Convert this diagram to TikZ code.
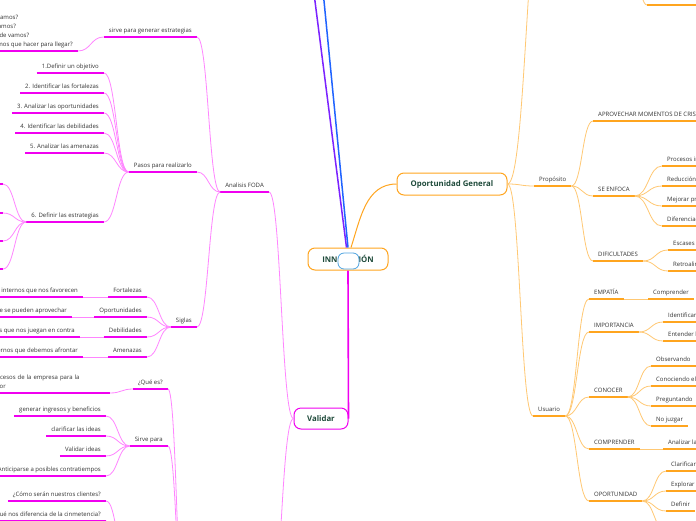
\documentclass[tikz,border=0pt]{standalone}
\usepackage{fontspec}
\setmainfont{Open Sans}
\usetikzlibrary{calc}

% Colours of the map
\definecolor{magU}{HTML}{F000F0}
\definecolor{magL}{HTML}{FF85FF}
\definecolor{orU}{HTML}{FFA51F}
\definecolor{orL}{HTML}{FFC873}
\definecolor{upviolet}{HTML}{7B22FF}
\definecolor{upblue}{HTML}{1F63FF}
\definecolor{dotblue}{HTML}{4DA3E0}
\definecolor{topictext}{HTML}{1E4A3A}
\definecolor{leaftext}{HTML}{333333}

\newcommand{\leaffont}{\fontsize{6}{8.7}\selectfont}
\newcommand{\topicfont}{\fontsize{7.8}{9}\selectfont\bfseries}

\tikzset{
  % underlined text of a branch
  leaf/.style={inner xsep=5pt, inner ysep=3.3pt, text depth=1.5pt,
    font=\leaffont, text=leaftext,
    append after command={\pgfextra{\let\thisleaf\tikzlastnode
      \draw[line width=1.8pt, #1] (\thisleaf.south west) -- (\thisleaf.south east);}}},
  mleaf/.style={leaf=magU, anchor=south east},
  oleaf/.style={leaf=orU, anchor=south west},
  % rounded box of a main topic
  topic/.style={draw=#1, line width=1pt, rounded corners=7pt, fill=white,
    font=\topicfont, text=topictext, minimum height=22pt},
  % S-shaped connector
  mmcurve/.style={to path={let \p1=(\tikztostart), \p2=(\tikztotarget) in
    .. controls ({(\x1+\x2)/2},\y1) and ({(\x1+\x2)/2},\y2) .. (\p2)}},
  mlink/.style={draw=magL, line width=0.8pt, mmcurve},
  olink/.style={draw=orL, line width=0.8pt, mmcurve},
  mstub/.style={draw=magU, line width=1.8pt},
  ostub/.style={draw=orU, line width=1.8pt}
}

\begin{document}
\begin{tikzpicture}[x=1pt, y=-1pt]
  \useasboundingbox (0,0) rectangle (696,520);
  \clip (0,0) rectangle (696,520);
  \fill[white] (0,0) rectangle (696,520);

  % Central topic
  \node[topic=orU, minimum width=80pt] (inn) at (348,259) {INNOVACIÓN};
  \node[draw=dotblue, fill=white, line width=0.8pt, rounded corners=6pt,
        minimum width=21pt, minimum height=16pt] (innmark) at (348.5,261) {};
  \node[topic=magU, minimum width=54pt, minimum height=21pt] (val) at (321,418.5) {Validar};
  \node[topic=orU, minimum width=110pt] (opp) at (452,184) {Oportunidad General};

  % Main branches
  \coordinate (upP) at (311,-30);
  \coordinate (upB) at (321,-30);
  \draw[line width=1.5pt, upviolet] ([xshift=-1.5pt]inn.north) -- (upP);
  \draw[line width=1.5pt, upblue] (inn.north) -- (upB);
  \draw[line width=1pt, orU] ([xshift=3pt]inn.north) to[out=72,in=180] (opp.west);
  \draw[line width=1.6pt, magU] (inn.south) -- (val.east);

  % Analisis FODA
  \node[mleaf] (foda) at (269,192) {Analisis FODA};
  \draw[mlink] (foda.south east) to (val.west);
  \node[mleaf] (sirve) at (197,37) {sirve para generar estrategias};
  \node[mleaf, align=left, text depth={}] (preg) at (78,51)
    {¿Dónde estamos?\\¿Qué buscamos?\\¿Hacia dónde vamos?\\¿Qué tenemos que hacer para llegar?};
  \draw[mlink] (sirve.south east) to (foda.south west);
  \draw[mlink] (preg.south east) to (sirve.south west);

  % Pasos para realizarlo
  \node[mleaf] (pasos) at (197,172) {Pasos para realizarlo};
  \draw[mlink] (pasos.south east) to (foda.south west);
  \foreach \i/\v/\t in {1/73/1.Definir un objetivo, 2/93/2. Identificar las fortalezas,
      3/113/3. Analizar las oportunidades, 4/133/4. Identificar las debilidades,
      5/153/5. Analizar las amenazas, 6/222/6. Definir las estrategias}{
    \node[mleaf] (pa\i) at (104,\v) {\t};
    \draw[mlink] (pa\i.south east) to (pasos.south west);
  }
  \foreach \i/\v in {1/184,2/213,3/241,4/269}{
    \coordinate (es\i) at (3,\v);
    \draw[mstub] (es\i) -- ++(-30,0);
    \draw[mlink] (es\i) to (pa6.south west);
  }

  % Siglas
  \node[mleaf] (siglas) at (197,327) {Siglas};
  \draw[mlink] (siglas.south east) to (foda.south west);
  \foreach \k/\v/\t/\d/\u in {fort/297/Fortalezas/Factores internos que nos favorecen/83,
      opor/317/Oportunidades/Factores externos que se pueden aprovechar/72,
      debi/337/Debilidades/Factores internos que nos juegan en contra/80,
      amen/357/Amenazas/Factores externos que debemos afrontar/83}{
    \node[mleaf] (\k) at (147,\v) {\t};
    \node[mleaf] (d\k) at (\u,\v) {\d};
    \draw[mlink] (\k.south east) to (siglas.south west);
    \draw[mlink] (d\k.south east) to (\k.south west);
  }

  % Lower branch of Validar (its topic lies below the picture)
  \coordinate (lowR) at (268,640);
  \coordinate (lowL) at (186,640);
  \draw[mlink] (lowR) to (val.west);
  \node[mleaf] (quees) at (168,389) {¿Qué es?};
  \node[mleaf, text width=155pt, align=left, text depth={}] (queesd) at (110,393)
    {Mejora de los procesos de la empresa para la\\generación de valor};
  \draw[mlink] (quees.south east) to (lowL);
  \draw[mlink] (queesd.south east) to (quees.south west);
  \node[mleaf] (sirvp) at (168,446) {Sirve para};
  \draw[mlink] (sirvp.south east) to (lowL);
  \foreach \i/\v/\t in {1/416/generar ingresos y beneficios, 2/436/clarificar las ideas,
      3/456/Validar ideas, 4/476/Anticiparse a posibles contratiempos}{
    \node[mleaf] (sp\i) at (106,\v) {\t};
    \draw[mlink] (sp\i.south east) to (sirvp.south west);
  }
  \coordinate (cliL) at (127,560);
  \node[mleaf] (cli1) at (106,501) {¿Cómo serán nuestros clientes?};
  \node[mleaf] (cli2) at (106,521) {¿Qué nos diferencia de la cinmetencia?};
  \draw[mlink] (cli1.south east) to (cliL);
  \draw[mlink] (cli2.south east) to (cliL);

  % Oportunidad General
  \coordinate (opptop) at (545,-120);
  \draw[olink] (opp.east) to (opptop);
  \coordinate (trA) at (630,-50);
  \coordinate (trB) at (647,5);
  \draw[olink] (trA) to (trB);
  \draw[ostub] (trB) -- ++(60,0);
  \node[oleaf] (prop) at (534,186) {Propósito};
  \node[oleaf] (usu) at (533,416) {Usuario};
  \draw[olink] (opp.east) to (prop.south west);
  \draw[olink] (opp.east) to (usu.south west);

  % Propósito
  \node[oleaf] (apro) at (593,121) {APROVECHAR MOMENTOS DE CRISIS};
  \node[oleaf] (enf) at (593,196) {SE ENFOCA};
  \node[oleaf] (dif) at (593,261) {DIFICULTADES};
  \foreach \k in {apro,enf,dif}
    \draw[olink] (prop.south east) to (\k.south west);
  \foreach \i/\v/\t in {1/166/Procesos innovadores, 2/186/Reducción de costos,
      3/206/Mejorar productos, 4/226/Diferenciación}{
    \node[oleaf] (enf\i) at (662,\v) {\t};
    \draw[olink] (enf.south east) to (enf\i.south west);
  }
  \foreach \i/\v/\t in {1/250/Escases de recursos, 2/271/Retroalimentación}{
    \node[oleaf] (dif\i) at (668,\v) {\t};
    \draw[olink] (dif.south east) to (dif\i.south west);
  }

  % Usuario
  \node[oleaf] (emp) at (589,299) {EMPATÍA};
  \node[oleaf] (imp) at (589,332) {IMPORTANCIA};
  \node[oleaf] (con) at (589,397) {CONOCER};
  \node[oleaf] (comp) at (589,449) {COMPRENDER};
  \node[oleaf] (opt) at (589,501) {OPORTUNIDAD};
  \foreach \k in {emp,imp,con,comp,opt}
    \draw[olink] (usu.south east) to (\k.south west);
  \node[oleaf] (emp1) at (648,299) {Comprender};
  \draw[olink] (emp.south east) to (emp1.south west);
  \foreach \i/\v/\t in {1/322/Identificar necesidades, 2/341/Entender la realidad}{
    \node[oleaf] (imp\i) at (663,\v) {\t};
    \draw[olink] (imp.south east) to (imp\i.south west);
  }
  \foreach \i/\v/\t in {1/366/Observando, 2/386/Conociendo el entorno,
      3/406/Preguntando, 4/426/No juzgar}{
    \node[oleaf] (con\i) at (651,\v) {\t};
    \draw[olink] (con.south east) to (con\i.south west);
  }
  \node[oleaf] (comp1) at (663,449) {Analizar la información};
  \draw[olink] (comp.south east) to (comp1.south west);
  \foreach \i/\v/\t in {1/471/Clarificar ideas, 2/491/Explorar, 3/511/Definir}{
    \node[oleaf] (opt\i) at (666,\v) {\t};
    \draw[olink] (opt.south east) to (opt\i.south west);
  }
  \coordinate (opt4) at (666,531);
  \draw[olink] (opt.south east) to (opt4);
  \draw[ostub] (opt4) -- ++(40,0);
\end{tikzpicture}
\end{document}
